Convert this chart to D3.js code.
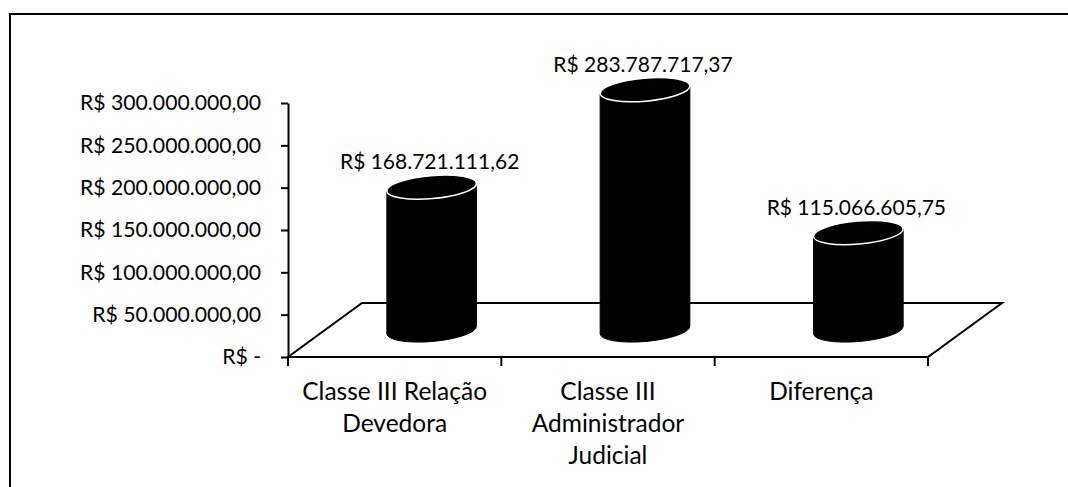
<!DOCTYPE html>
<html>
<head>
<meta charset="utf-8">
<script src="https://cdn.jsdelivr.net/npm/d3@7"></script>
<style>
  html, body { margin: 0; padding: 0; background: #fff; }
  svg { display: block; font-family: "Lato", "Open Sans", sans-serif; }
</style>
</head>
<body>
<svg id="chart" width="1068" height="487"></svg>
<script>
// ---- data ----
const categories = ["Classe III Relação Devedora", "Classe III Administrador Judicial", "Diferença"];
const values = [168721111.62, 283787717.37, 115066605.75];
const yTicks = [0, 50000000, 100000000, 150000000, 200000000, 250000000, 300000000];

// ---- layout ----
const W = 1068, H = 487;
const plot = { left: 288, right: 928, top: 103, bottom: 357 };
const depth = { dx: 74, dy: -54 };
const cyl = { rx: 45, ry: 11.5, rot: -5 };

const svg = d3.select("#chart");
svg.append("rect").attr("width", W).attr("height", H).attr("fill", "#fff");

// outer frame
svg.append("rect")
  .attr("x", 10).attr("y", 14).attr("width", 1080).attr("height", 500)
  .attr("fill", "none").attr("stroke", "#000").attr("stroke-width", 2);

const br = d3.formatLocale({ decimal: ",", thousands: ".", grouping: [3], currency: ["R$ ", ""] });
const fmt = br.format("$,.2f");
const tickFmt = v => v === 0 ? "R$ -" : fmt(v);

const x = d3.scaleBand().domain(categories).range([plot.left, plot.right]).padding(0);
const y = d3.scaleLinear().domain([0, 300000000]).range([plot.bottom, plot.top]);
const bw = x.bandwidth();

// floor
const y0 = y(0);
const floorPts = [
  [plot.left, y0], [plot.right, y0],
  [plot.right + depth.dx, y0 + depth.dy], [plot.left + depth.dx, y0 + depth.dy]
];
svg.append("path")
  .attr("d", d3.line()(floorPts) + "Z")
  .attr("fill", "none").attr("stroke", "#000").attr("stroke-width", 2)
  .attr("stroke-linejoin", "miter");

// x-axis boundary ticks
const bounds = categories.map(c => x(c)).concat([plot.right]);
svg.selectAll("line.xt").data(bounds).join("line")
  .attr("x1", d => d).attr("x2", d => d)
  .attr("y1", y0).attr("y2", y0 + 9)
  .attr("stroke", "#000").attr("stroke-width", 2);

// y axis
const yAxis = svg.append("g")
  .attr("transform", `translate(${plot.left},0)`)
  .call(d3.axisLeft(y).tickValues(yTicks).tickSize(7).tickSizeOuter(0).tickPadding(20).tickFormat(tickFmt));
yAxis.select(".domain").attr("stroke", "#000").attr("stroke-width", 2);
yAxis.selectAll(".tick line").attr("stroke", "#000").attr("stroke-width", 2);
yAxis.selectAll(".tick text")
  .attr("font-family", "Lato, sans-serif").attr("font-size", 21.2).attr("fill", "#000");

// category labels (wrapped)
const catG = svg.append("g").attr("font-size", 24.5).attr("fill", "#000").attr("text-anchor", "middle");
categories.forEach(c => {
  const t = catG.append("text").attr("x", x(c) + bw / 2).attr("y", 400);
  const words = c.split(" ");
  let lines = [], cur = [];
  const probe = catG.append("text").attr("visibility", "hidden");
  words.forEach(w => {
    const test = cur.concat([w]).join(" ");
    probe.text(test);
    if (probe.node().getComputedTextLength() > bw - 8 && cur.length) {
      lines.push(cur.join(" "));
      cur = [w];
    } else cur.push(w);
  });
  lines.push(cur.join(" "));
  probe.remove();
  lines.forEach((l, i) => {
    t.append("tspan").attr("x", x(c) + bw / 2).attr("y", 400 + i * 32).text(l);
  });
});

// cylinders
const a = cyl.rot * Math.PI / 180;
const ex = cyl.rx * Math.cos(a), ey = cyl.rx * Math.sin(a);
const cylG = svg.append("g");
categories.forEach((c, i) => {
  const cx = x(c) + bw / 2 + depth.dx / 2;
  const baseY = y(0) + depth.dy / 2;
  const topY = y(values[i]) + depth.dy / 2;
  const body = `M${cx - ex},${topY - ey} L${cx - ex},${baseY - ey} A${cyl.rx},${cyl.ry} ${cyl.rot} 0 0 ${cx + ex},${baseY + ey} L${cx + ex},${topY + ey} Z`;
  cylG.append("path").attr("d", body).attr("fill", "#000").attr("stroke", "#000").attr("stroke-width", 1);
  cylG.append("ellipse")
    .attr("cx", 0).attr("cy", 0).attr("rx", cyl.rx).attr("ry", cyl.ry)
    .attr("transform", `translate(${cx},${topY}) rotate(${cyl.rot})`)
    .attr("fill", "#000").attr("stroke", "#fff").attr("stroke-width", 1.5);
  // data label
  svg.append("text")
    .attr("x", cx - 2).attr("y", topY - 18)
    .attr("text-anchor", "middle").attr("font-size", 21).attr("fill", "#000")
    .text(fmt(values[i]));
});
</script>
</body>
</html>
